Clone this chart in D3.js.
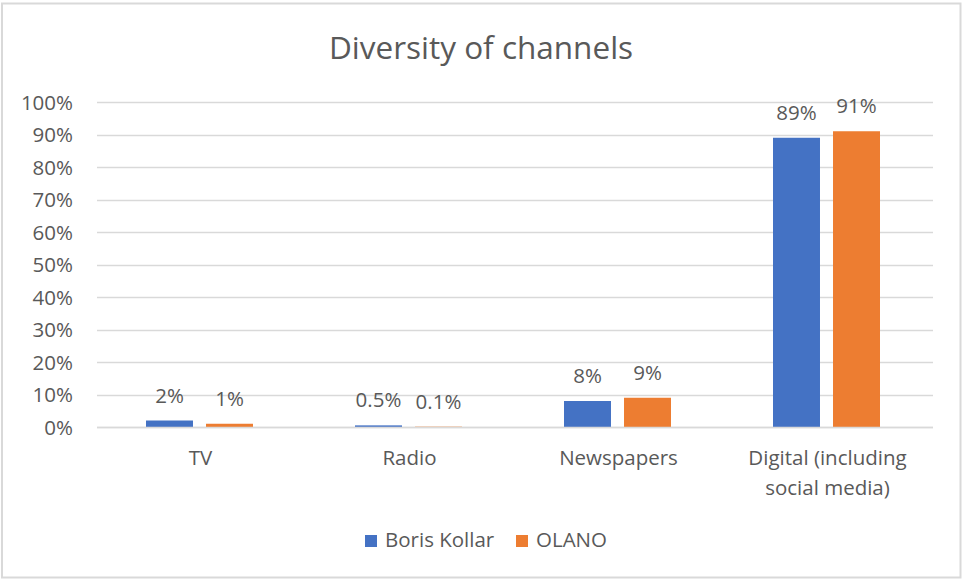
<!DOCTYPE html>
<html>
<head>
<meta charset="utf-8">
<script src="https://cdn.jsdelivr.net/npm/d3@7"></script>
<style>
  html, body { margin: 0; padding: 0; background: #fff; }
  svg { display: block; }
  text { font-family: "Open Sans", "Noto Sans", sans-serif; fill: #595959; }
</style>
</head>
<body>
<svg id="chart" width="963" height="581"></svg>
<script>
// Share of campaign spending per channel
const categories = ["TV", "Radio", "Newspapers", "Digital (including social media)"];
const seriesNames = ["Boris Kollar", "OLANO"];
const borisKollar = [2, 0.5, 8, 89];
const olano = [1, 0.1, 9, 91];
const valueLabels = [["2%", "0.5%", "8%", "89%"], ["1%", "0.1%", "9%", "91%"]];
const yTicks = [0, 10, 20, 30, 40, 50, 60, 70, 80, 90, 100];
const colors = ["#4472C4", "#ED7D31"];

const svg = d3.select("#chart");
const labelSize = "20.5px";

// outer chart frame
svg.append("rect")
  .attr("x", 2).attr("y", 3.5).attr("width", 958.5).attr("height", 574)
  .attr("fill", "#fff").attr("stroke", "#d9d9d9").attr("stroke-width", 2);

svg.append("text")
  .attr("x", 481).attr("y", 59)
  .attr("text-anchor", "middle")
  .style("font-size", "31.5px")
  .text("Diversity of channels");

const plotLeft = 97, plotRight = 933, plotTop = 102, plotBottom = 427;

const x = d3.scaleBand().domain(categories).range([plotLeft, plotRight]).paddingInner(0).paddingOuter(0);
const y = d3.scaleLinear().domain([0, 100]).range([plotBottom, plotTop]);

// gridlines
svg.append("g").selectAll("line").data(yTicks).join("line")
  .attr("x1", plotLeft).attr("x2", plotRight)
  .attr("y1", d => Math.round(y(d)) + 0.5).attr("y2", d => Math.round(y(d)) + 0.5)
  .attr("stroke", "#d9d9d9").attr("stroke-width", 1.5);

// y axis labels
const yAxis = d3.axisLeft(y).tickValues(yTicks).tickFormat(d => d + "%").tickSize(0).tickPadding(0);
const yg = svg.append("g").attr("transform", `translate(${plotLeft - 24},0)`).call(yAxis);
yg.select(".domain").remove();
yg.selectAll("text").style("font-size", labelSize).attr("fill", "#595959").attr("dy", "0.35em")
  .style("font-family", '"Open Sans", "Noto Sans", sans-serif');

// bars
const inner = d3.scaleBand().domain([0, 1]).range([0, x.bandwidth()]).paddingInner(0.217).paddingOuter(0.85);
const series = [borisKollar, olano];

series.forEach((vals, si) => {
  const g = svg.append("g");
  g.selectAll("rect").data(vals).join("rect")
    .attr("x", (d, i) => x(categories[i]) + inner(si) - 2)
    .attr("width", inner.bandwidth())
    .attr("y", d => y(d))
    .attr("height", d => plotBottom - y(d))
    .attr("fill", colors[si]);
  g.selectAll("text").data(vals).join("text")
    .attr("x", (d, i) => x(categories[i]) + inner(si) - 2 + inner.bandwidth() / 2)
    .attr("y", d => y(d) - 18)
    .attr("text-anchor", "middle")
    .style("font-size", labelSize)
    .text((d, i) => valueLabels[si][i]);
});

// redraw baseline over tiny bars
svg.append("line")
  .attr("x1", plotLeft).attr("x2", plotRight)
  .attr("y1", Math.round(y(0)) + 0.5).attr("y2", Math.round(y(0)) + 0.5)
  .attr("stroke", "#d9d9d9").attr("stroke-width", 1.5);

// category labels, wrapping the long one onto two lines
const catLines = {
  "TV": ["TV"],
  "Radio": ["Radio"],
  "Newspapers": ["Newspapers"],
  "Digital (including social media)": ["Digital (including", "social media)"]
};
categories.forEach(c => {
  const cx = x(c) + x.bandwidth() / 2 - 1;
  const t = svg.append("text")
    .attr("x", cx)
    .attr("y", 465)
    .attr("text-anchor", "middle")
    .style("font-size", labelSize);
  catLines[c].forEach((ln, i) => {
    t.append("tspan").attr("x", cx).attr("dy", i === 0 ? 0 : 30).text(ln);
  });
});

// legend
const legendItems = [
  { name: seriesNames[0], color: colors[0], x: 365 },
  { name: seriesNames[1], color: colors[1], x: 516 }
];
const lg = svg.append("g");
legendItems.forEach(it => {
  lg.append("rect").attr("x", it.x).attr("y", 535).attr("width", 12).attr("height", 12).attr("fill", it.color);
  lg.append("text").attr("x", it.x + 20).attr("y", 547).style("font-size", labelSize).text(it.name);
});
</script>
</body>
</html>
